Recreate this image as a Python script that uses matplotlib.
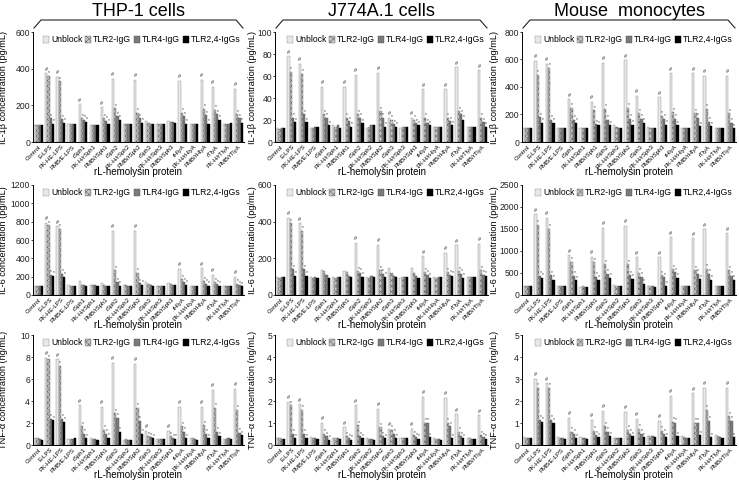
import matplotlib.pyplot as plt
from matplotlib.lines import Line2D
import numpy as np

plt.rcParams['font.family'] = ['Liberation Sans', 'DejaVu Sans']
plt.rcParams['hatch.linewidth'] = 0.4
plt.rcParams['hatch.color'] = '#555555'

# categories on the x axis
categories = ["Control", "E-LPS", "PK-HE-LPS", "PMB/E-LPS", "rSph1", "PK-H/rSph1",
              "PMB/rSph1", "rSph2", "PK-H/rSph2", "PMB/rSph2", "rSph3", "PK-H/rSph3",
              "PMB/rSph3", "rHlyA", "PK-H/rHlyA", "PMB/rHlyA", "rTlyA", "PK-H/rTlyA",
              "PMB/rTlyA"]
series = ["Unblock", "TLR2-IgG", "TLR4-IgG", "TLR2,4-IgGs"]
cells = ["THP-1 cells", "J774A.1 cells", "Mouse  monocytes"]

# values per panel: one row per category -> Unblock, TLR2-IgG, TLR4-IgG, TLR2,4-IgGs
il1b_thp1 = [[95, 95, 95, 95], [375, 360, 130, 100], [355, 330, 125, 105], [100, 100, 100, 100],
             [205, 130, 120, 110], [95, 95, 95, 95], [190, 130, 115, 100], [345, 185, 140, 120],
             [100, 100, 100, 100], [340, 160, 130, 105], [115, 105, 100, 100], [100, 100, 100, 100],
             [115, 110, 110, 105], [335, 160, 140, 100], [100, 100, 100, 100], [340, 180, 145, 100],
             [300, 175, 150, 120], [100, 100, 100, 105], [290, 150, 130, 105]]
il1b_j774 = [[13, 12, 13, 13], [78, 64, 22, 18], [71, 62, 25, 18], [13, 13, 14, 14],
             [50, 25, 22, 15], [15, 14, 15, 13], [50, 22, 19, 14], [61, 25, 22, 17],
             [13, 14, 15, 15], [63, 28, 22, 14], [22, 20, 16, 14], [13, 14, 14, 14],
             [22, 20, 17, 15], [48, 22, 17, 15], [14, 14, 14, 14], [48, 22, 19, 15],
             [68, 28, 25, 20], [14, 14, 14, 14], [65, 22, 18, 14]]
il1b_mouse = [[105, 105, 100, 100], [590, 490, 180, 140], [570, 540, 160, 140], [105, 100, 100, 100],
              [310, 250, 160, 140], [105, 100, 105, 100], [290, 230, 130, 120], [575, 240, 160, 120],
              [120, 110, 105, 100], [595, 250, 170, 125], [335, 210, 170, 140], [110, 105, 100, 100],
              [325, 190, 170, 125], [500, 215, 170, 120], [105, 100, 105, 100], [500, 210, 175, 115],
              [480, 240, 145, 115], [105, 100, 105, 105], [480, 210, 140, 100]]
il6_thp1 = [[100, 100, 100, 100], [790, 760, 220, 210], [750, 720, 230, 200], [110, 100, 100, 100],
            [150, 110, 105, 95], [110, 105, 105, 100], [130, 110, 100, 95], [700, 270, 140, 100],
            [110, 105, 100, 100], [700, 240, 130, 110], [140, 120, 110, 100], [100, 100, 100, 100],
            [130, 115, 110, 110], [285, 170, 140, 110], [100, 100, 100, 100], [290, 150, 120, 100],
            [220, 140, 115, 100], [100, 100, 100, 100], [200, 120, 105, 95]]
il6_j774 = [[100, 95, 100, 100], [420, 390, 140, 105], [390, 350, 140, 105], [100, 95, 100, 95],
            [135, 130, 110, 90], [100, 95, 100, 100], [130, 125, 105, 100], [285, 130, 120, 100],
            [100, 95, 105, 100], [275, 135, 115, 100], [145, 120, 105, 100], [95, 100, 100, 100],
            [145, 120, 105, 95], [210, 125, 110, 95], [100, 95, 100, 100], [230, 125, 110, 105],
            [270, 130, 115, 95], [100, 100, 100, 100], [280, 135, 110, 105]]
il6_mouse = [[200, 200, 200, 200], [1830, 1600, 430, 390], [1760, 1500, 450, 340], [200, 200, 200, 200],
             [900, 750, 430, 330], [190, 200, 190, 190], [870, 740, 420, 340], [1530, 700, 480, 390],
             [220, 210, 200, 200], [1570, 700, 450, 370], [860, 500, 420, 250], [200, 200, 200, 190],
             [860, 450, 400, 210], [1310, 580, 520, 390], [210, 200, 200, 200], [1290, 560, 480, 360],
             [1490, 600, 480, 350], [200, 200, 200, 200], [1400, 560, 430, 350]]
tnf_thp1 = [[0.6, 0.6, 0.55, 0.5], [7.9, 7.8, 2.4, 2.25], [7.8, 7.2, 2.4, 2.1], [0.55, 0.55, 0.55, 0.6],
            [3.6, 1.7, 1.0, 0.6], [0.6, 0.55, 0.55, 0.5], [3.5, 1.4, 1.0, 0.65], [7.5, 2.9, 2.5, 1.2],
            [0.5, 0.55, 0.5, 0.5], [7.4, 3.4, 2.2, 1.0], [1.3, 0.8, 0.7, 0.6], [0.55, 0.55, 0.55, 0.55],
            [1.3, 0.8, 0.6, 0.55], [3.5, 1.7, 1.2, 0.6], [0.6, 0.6, 0.55, 0.5], [3.5, 1.8, 1.0, 0.6],
            [5.0, 3.4, 1.2, 0.8], [0.55, 0.55, 0.6, 0.55], [5.1, 3.2, 1.1, 0.9]]
tnf_j774 = [[0.3, 0.3, 0.28, 0.28], [1.95, 1.8, 0.5, 0.3], [1.85, 1.6, 0.5, 0.3], [0.35, 0.3, 0.3, 0.28],
            [1.0, 0.5, 0.4, 0.25], [0.3, 0.3, 0.3, 0.28], [0.8, 0.4, 0.3, 0.25], [1.8, 0.9, 0.4, 0.3],
            [0.3, 0.28, 0.28, 0.25], [1.65, 0.8, 0.4, 0.3], [0.75, 0.7, 0.5, 0.3], [0.33, 0.3, 0.3, 0.3],
            [0.75, 0.45, 0.35, 0.28], [2.2, 1.0, 1.0, 0.35], [0.3, 0.28, 0.28, 0.25], [2.15, 1.0, 0.85, 0.3],
            [1.4, 0.6, 0.4, 0.3], [0.3, 0.3, 0.28, 0.28], [1.35, 0.45, 0.35, 0.28]]
tnf_mouse = [[0.35, 0.33, 0.33, 0.33], [3.0, 2.6, 1.15, 1.05], [2.8, 2.6, 1.15, 1.0], [0.35, 0.33, 0.3, 0.28],
             [1.25, 0.6, 0.5, 0.3], [0.35, 0.33, 0.3, 0.28], [1.15, 0.65, 0.45, 0.35], [1.55, 0.85, 0.6, 0.4],
             [0.33, 0.3, 0.3, 0.3], [1.5, 0.7, 0.5, 0.4], [1.2, 0.75, 0.5, 0.35], [0.4, 0.4, 0.4, 0.35],
             [1.1, 0.65, 0.5, 0.35], [2.25, 1.05, 1.0, 0.4], [0.4, 0.35, 0.3, 0.3], [2.35, 1.0, 1.0, 0.45],
             [2.6, 1.6, 1.1, 0.35], [0.45, 0.4, 0.35, 0.3], [2.6, 1.3, 1.1, 0.35]]

panels = [[il1b_thp1, il1b_j774, il1b_mouse],
          [il6_thp1, il6_j774, il6_mouse],
          [tnf_thp1, tnf_j774, tnf_mouse]]
ylabels = ["IL-1\u03b2 concentration (pg/mL)", "IL-6 concentration (pg/mL)",
           "TNF-\u03b1 concentration (ng/mL)"]
yticks = [[[0, 200, 400, 600], [0, 20, 40, 60, 80, 100], [0, 200, 400, 600, 800]],
          [[0, 200, 400, 600, 800, 1000, 1200], [0, 200, 400, 600], [0, 500, 1000, 1500, 2000, 2500]],
          [[0, 2, 4, 6, 8, 10], [0, 1, 2, 3, 4, 5], [0, 1, 2, 3, 4, 5]]]

faces = ['#e8e8e8', '#c4c4c4', '#7a7a7a', '#000000']
edges = ['#8a8a8a', '#6a6a6a', '#505050', '#000000']
hatches = [None, 'xxxxxx', None, None]

fig = plt.figure(figsize=(7.39, 4.86), dpi=100)
W, H = 739.0, 486.0
lefts = [33, 275, 522]
widths = [211, 213, 214]
label_x = [8.5, 257, 499]   # pixel x of the y labels
tops = [32, 185, 335]
axh = 110

x = np.arange(len(categories))
bw = 0.2
for r in range(3):
    for c in range(3):
        ax = fig.add_axes([lefts[c] / W, 1 - (tops[r] + axh) / H, widths[c] / W, axh / H])
        data = np.array(panels[r][c], dtype=float)
        ymax = yticks[r][c][-1]
        for k in range(4):
            xs = x + (k - 1.5) * bw
            ax.bar(xs, data[:, k], bw, color=faces[k], edgecolor=edges[k], linewidth=0.3,
                   hatch=hatches[k], label=series[k], zorder=2)
        # significance marks
        base = data[0, 0]
        for i in range(len(categories)):
            if data[i, 0] > 1.6 * base:
                ax.text(x[i] - 1.5 * bw, data[i, 0] + ymax * 0.015, '#', fontsize=4,
                        ha='center', va='bottom', color='#333333')
                for k in range(1, 4):
                    ax.text(x[i] + (k - 1.5) * bw + 0.05, data[i, k] + ymax * 0.005, '*',
                            fontsize=3.5, ha='center', va='bottom', color='#333333')
        ax.set_xlim(-0.5, len(categories) - 0.5)
        ax.set_ylim(0, ymax)
        ax.set_yticks(yticks[r][c])
        ax.tick_params(axis='y', labelsize=6.2, length=1.5, width=0.6, pad=0.6, colors='#222222')
        ax.set_xticks(x)
        ax.set_xticklabels(categories, rotation=45, ha='right', rotation_mode='anchor',
                           fontsize=4.3)
        ax.tick_params(axis='x', length=0, pad=1.5)
        for s in ['top', 'right']:
            ax.spines[s].set_visible(False)
        ax.spines['left'].set_linewidth(0.7)
        ax.spines['bottom'].set_linewidth(0.7)
        ax.set_ylabel(ylabels[r], fontsize=6.6)
        ax.yaxis.set_label_coords((label_x[c] - lefts[c]) / widths[c], 0.5)
        ax.set_xlabel("rL-hemolysin protein", fontsize=7)
        ax.xaxis.set_label_coords(0.5, -25.0 / axh)
        ax.legend(loc='upper right', ncol=4, fontsize=6.2, frameon=False, handlelength=0.75,
                  handleheight=0.75, handletextpad=0.2, columnspacing=0.3,
                  borderaxespad=0.0, bbox_to_anchor=(1.0, 1.0))

# titles with braces
for c in range(3):
    x0 = lefts[c]
    x1 = lefts[c] + widths[c]
    xm = (x0 + x1) / 2
    fig.text(xm / W, 1 - 11 / H, cells[c], fontsize=13, ha='center', va='center')
    bx = [x0 + 1, x0 + 8, x1 - 8, x1 - 1]
    by = [28, 20, 20, 28]
    fig.add_artist(Line2D([v / W for v in bx], [1 - v / H for v in by],
                          color='#222222', linewidth=0.8))

plt.savefig("out.png", dpi=100)
